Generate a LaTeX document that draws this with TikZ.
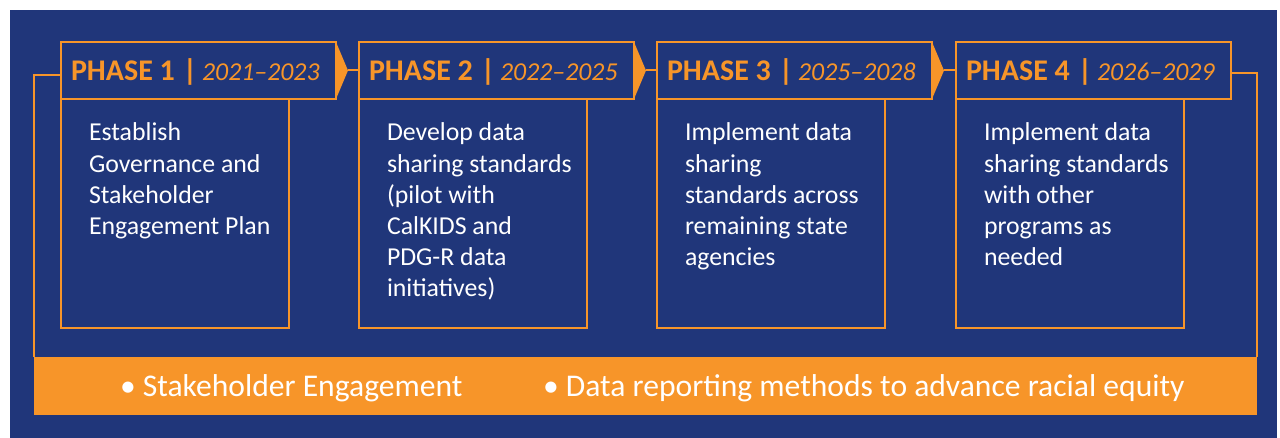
\documentclass[tikz,border=0pt]{standalone}
\usepackage{fontspec}
\setmainfont{Carlito}
\newcommand{\phasehead}[2]{\makebox[255pt][l]{\fontsize{30}{32}\selectfont\textbf{PHASE #1}\hspace{8pt}\textbf{|}\hspace{5pt}{\fontsize{25.8}{32}\selectfont\textit{#2}}}}
\begin{document}
\begin{tikzpicture}[x=1pt,y=1pt,
  every node/.style={inner sep=0pt, outer sep=0pt},
  hdr/.style={draw=phorange, line width=2pt, minimum width=275pt, minimum height=57pt,
    anchor=north west, text=phorange, fill=navy, text height=19.5pt, text depth=0pt},
  body/.style={draw=phorange, line width=1.4pt, minimum width=228pt, minimum height=229pt,
    anchor=north west},
  bodytext/.style={anchor=north west, text=white, align=left,
    font=\fontsize{25.8}{31.2}\selectfont},
  bartext/.style={anchor=base west, text=white, font=\fontsize{31.6}{34}\selectfont},
  link/.style={draw=phorange, line width=2pt},
]
\definecolor{navy}{RGB}{32,54,122}
\definecolor{phorange}{RGB}{247,149,41}
% page and background panel
\useasboundingbox (0,0) rectangle (1280,438);
\fill[navy] (10,0) rectangle (1277,428);

% bottom bar
\node[fill=phorange, minimum width=1223pt, minimum height=58pt, anchor=north west] (bar) at (34,81) {};
\node[bartext] (e1) at (120,41) {• Stakeholder Engagement};
\node[bartext] (e2) at (543,41) {• Data reporting methods to advance racial equity};

% phase bodies
\node[body] (b1) at (61,339) {};
\node[body] (b2) at (359,339) {};
\node[body] (b3) at (657,339) {};
\node[body] (b4) at (956,339) {};

% phase headers
\node[hdr] (h1) at (61,396) {\phasehead{1}{2021–2023}};
\node[hdr] (h2) at (359,396) {\phasehead{2}{2022–2025}};
\node[hdr] (h3) at (657,396) {\phasehead{3}{2025–2028}};
\node[hdr] (h4) at (956,396) {\phasehead{4}{2026–2029}};

% chevrons and links between headers
\foreach \a/\b in {h1/h2, h2/h3, h3/h4}{
  \fill[phorange] (\a.north east) -- ([xshift=12pt]\a.east) coordinate (tip\a) -- (\a.south east) -- cycle;
  \draw[link] (tip\a) -- (\b.west);
}

% frame lines from the first and last phase down to the bar
\draw[link] ([yshift=-4.5pt]h1.west) -| (bar.north west);
\draw[link] ([yshift=-2.5pt]h4.east) -| (bar.north east);

% body texts
\node[bodytext] (t1) at ([xshift=28pt,yshift=-24pt]b1.north west)
  {Establish\\Governance and\\Stakeholder\\Engagement Plan};
\node[bodytext] (t2) at ([xshift=28pt,yshift=-24pt]b2.north west)
  {Develop data\\sharing standards\\(pilot with\\CalKIDS and\\PDG-R data\\initiatives)};
\node[bodytext] (t3) at ([xshift=28pt,yshift=-24pt]b3.north west)
  {Implement data\\sharing\\standards across\\remaining state\\agencies};
\node[bodytext] (t4) at ([xshift=28pt,yshift=-24pt]b4.north west)
  {Implement data\\sharing standards\\with other\\programs as\\needed};
\end{tikzpicture}
\end{document}
